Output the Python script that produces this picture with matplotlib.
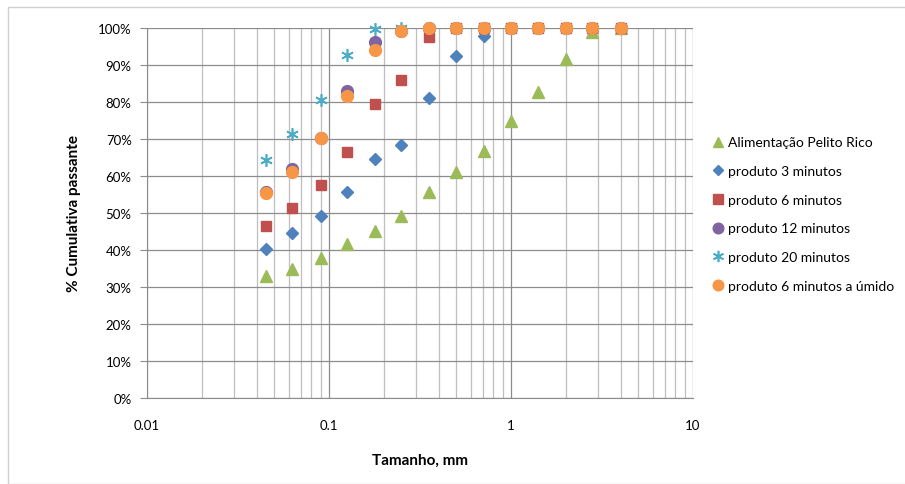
import numpy as np
import matplotlib.pyplot as plt
from matplotlib.ticker import FixedLocator, PercentFormatter, LogLocator, NullFormatter
from matplotlib.patches import Rectangle

plt.rcParams['font.family'] = ['Lato', 'DejaVu Sans']

# Abertura das peneiras (mm)
tamanho = [0.045, 0.063, 0.09, 0.125, 0.18, 0.25, 0.355, 0.5, 0.71, 1.0, 1.4, 2.0, 2.8, 4.0]

# % cumulativa passante
alimentacao = [33.1, 35.0, 37.8, 41.6, 45.2, 49.3, 55.6, 61.0, 66.8, 74.9, 82.8, 91.6, 98.9, 100]
produto_3 = [40.4, 44.5, 49.1, 55.6, 64.7, 68.5, 81.1, 92.3, 97.9, 100, 100, 100, 100, 100]
produto_6 = [46.4, 51.4, 57.6, 66.6, 79.5, 85.9, 97.5, 100, 100, 100, 100, 100, 100, 100]
produto_12 = [55.6, 62.0, 70.2, 83.1, 96.2, 99.3, 100, 100, 100, 100, 100, 100, 100, 100]
produto_20 = [64.3, 71.4, 80.5, 92.8, 99.8, 100, 100, 100, 100, 100, 100, 100, 100, 100]
produto_6_umido = [55.5, 61.0, 70.2, 81.6, 94.1, 99.1, 100, 100, 100, 100, 100, 100, 100, 100]

series = [
    ('Alimentação Pelito Rico', alimentacao, '#9BBB59', '^', 8.5),
    ('produto 3 minutos', produto_3, '#4F81BD', 'D', 6.0),
    ('produto 6 minutos', produto_6, '#C0504D', 's', 7.5),
    ('produto 12 minutos', produto_12, '#8064A2', 'o', 8.5),
    ('produto 20 minutos', produto_20, '#4BACC6', (6, 2, 0), 9.0),
    ('produto 6 minutos a úmido', produto_6_umido, '#F79646', 'o', 8.5),
]

fig = plt.figure(figsize=(9.05, 4.85), dpi=100)
ax = fig.add_axes([147 / 905, 1 - 399 / 485, (693 - 147) / 905, (399 - 29) / 485])

for nome, valores, cor, marcador, tam in series:
    if marcador == (6, 2, 0):
        ax.plot(tamanho, valores, linestyle='none', marker=marcador, markersize=tam,
                markeredgecolor=cor, markeredgewidth=1.2, color=cor, label=nome, clip_on=False, zorder=3)
    else:
        ax.plot(tamanho, valores, linestyle='none', marker=marcador, markersize=tam,
                color=cor, markeredgecolor=cor, label=nome, clip_on=False, zorder=3)

ax.set_xscale('log')
ax.set_xlim(0.01, 10)
ax.set_ylim(0, 100)
ax.yaxis.set_major_locator(FixedLocator(np.arange(0, 101, 10)))
ax.yaxis.set_major_formatter(PercentFormatter(decimals=0))
ax.xaxis.set_major_locator(FixedLocator([0.01, 0.1, 1, 10]))
ax.set_xticklabels(['0.01', '0.1', '1', '10'])
ax.xaxis.set_minor_locator(LogLocator(base=10, subs=np.arange(2, 10)))
ax.xaxis.set_minor_formatter(NullFormatter())

ax.grid(True, which='major', axis='both', color='#8C8C8C', linewidth=0.9)
ax.grid(True, which='minor', axis='x', color='#BFBFBF', linewidth=0.9)
ax.set_axisbelow(True)

for lado in ['top', 'right']:
    ax.spines[lado].set_visible(False)
for lado in ['left', 'bottom']:
    ax.spines[lado].set_color('#8C8C8C')
ax.tick_params(axis='y', which='major', length=5, color='#8C8C8C', labelsize=9.5, pad=6)
ax.tick_params(axis='x', which='both', length=0, labelsize=9.5, pad=15)

ax.set_xlabel('Tamanho, mm', fontsize=11, fontweight='bold', labelpad=16)
ax.set_ylabel('% Cumulativa passante', fontsize=11, fontweight='bold', labelpad=12)

leg = ax.legend(loc='upper left', bbox_to_anchor=(1.021, 0.722), frameon=False,
                fontsize=10, handletextpad=0.1, labelspacing=1.2, borderaxespad=0,
                handlelength=1.2, markerscale=0.9)

fig.patches.append(Rectangle((8 / 905, 0), 1, 1 - 8 / 485, transform=fig.transFigure,
                             fill=False, edgecolor='#D0D0D0', linewidth=1.0))

fig.savefig('out.png', dpi=100)
